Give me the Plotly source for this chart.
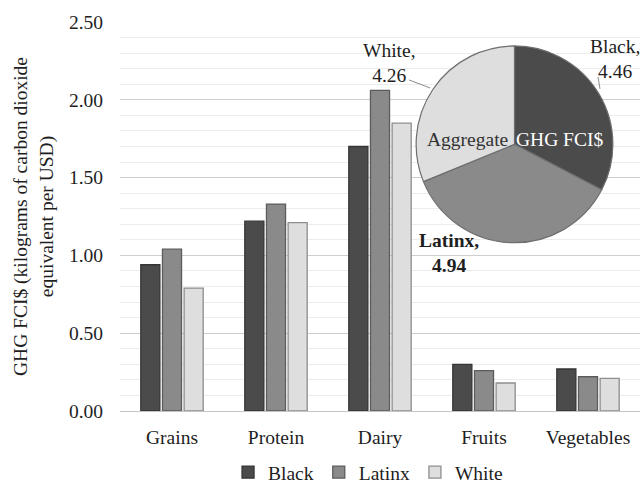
import plotly.graph_objects as go

# Food categories and GHG FCI$ per group (kg CO2e per USD)
categories = ["Grains", "Protein", "Dairy", "Fruits", "Vegetables"]
black_vals = [0.94, 1.22, 1.70, 0.30, 0.27]
latinx_vals = [1.04, 1.33, 2.06, 0.26, 0.22]
white_vals = [0.79, 1.21, 1.85, 0.18, 0.21]

# Aggregate GHG FCI$ by group
pie_labels = ["Black", "Latinx", "White"]
pie_values = [4.46, 4.94, 4.26]

y_ticks = [0.0, 0.5, 1.0, 1.5, 2.0, 2.5]

FILL = {"Black": "#4b4b4b", "Latinx": "#8a8a8a", "White": "#dedede"}
EDGE = {"Black": "#353535", "Latinx": "#5c5c5c", "White": "#8e8e8e"}
FONT = "Liberation Serif, Times New Roman, serif"
FS = 19.5

# plot-area geometry in pixels (used to place paper-referenced items)
W, H = 642, 485
ML, MR, MT, MB = 120, 2, 22, 73.5
PW, PH = W - ML - MR, H - MT - MB


def px(x):
    return (x - ML) / PW


def py(y):
    return (H - MB - y) / PH


fig = go.Figure()
for name, vals in zip(pie_labels, [black_vals, latinx_vals, white_vals]):
    fig.add_trace(go.Bar(
        x=categories, y=vals, name=name,
        marker=dict(color=FILL[name], line=dict(color=EDGE[name], width=1.3)),
        hoverinfo="x+y+name",
    ))

fig.add_trace(go.Pie(
    labels=pie_labels, values=pie_values,
    sort=False, direction="clockwise", rotation=0,
    marker=dict(colors=[FILL[n] for n in pie_labels],
                line=dict(color="#6e6e6e", width=1.2)),
    textinfo="none", showlegend=False,
    domain=dict(x=[px(416), px(613)], y=[py(243), py(46)]),
))

annotations = []
# slice labels built from the pie data
lab_pos = {"Black": (615, 59.5, False), "White": (389, 63.5, False),
           "Latinx": (449, 253, True)}
for name, val in zip(pie_labels, pie_values):
    x, y, bold = lab_pos[name]
    txt = f"{name},<br>{val:.2f}"
    if bold:
        txt = f"<b>{name},<br>{val:.2f}</b>"
    annotations.append(dict(
        x=px(x), y=py(y), xref="paper", yref="paper", text=txt,
        showarrow=False, xanchor="center", yanchor="middle",
        font=dict(family=FONT, size=FS, color="#1e1e1e"),
    ))

# pie title split across the light and dark slices
annotations.append(dict(x=px(510), y=py(140), xref="paper", yref="paper",
                        text="Aggregate", showarrow=False, xanchor="right",
                        yanchor="middle",
                        font=dict(family=FONT, size=FS, color="#333333")))
annotations.append(dict(x=px(514), y=py(140), xref="paper", yref="paper",
                        text="GHG FCI$", showarrow=False, xanchor="left",
                        yanchor="middle",
                        font=dict(family=FONT, size=FS, color="#ffffff")))

# leader lines from labels to slices
shapes = [
    dict(type="line", xref="paper", yref="paper",
         x0=px(409), y0=py(80), x1=px(430), y1=py(88),
         line=dict(color="#8a8a8a", width=1)),
    dict(type="line", xref="paper", yref="paper",
         x0=px(598), y0=py(77), x1=px(600), y1=py(89),
         line=dict(color="#8a8a8a", width=1)),
]

fig.update_layout(
    width=W, height=H,
    margin=dict(l=ML, r=MR, t=MT, b=MB, pad=0, autoexpand=False),
    paper_bgcolor="white", plot_bgcolor="white",
    barmode="group", bargap=0.375, bargroupgap=0.12,
    font=dict(family=FONT, size=FS, color="#1e1e1e"),
    showlegend=True,
    legend=dict(orientation="h", x=0.477, xanchor="center",
                y=py(473), yanchor="middle", itemwidth=30,
                font=dict(family=FONT, size=FS, color="#1e1e1e"),
                traceorder="normal"),
    annotations=annotations, shapes=shapes,
)
fig.update_xaxes(showgrid=False, showline=True, linecolor="#c4c4c4",
                 linewidth=1.2, ticks="", ticklabelstandoff=8)
fig.update_yaxes(range=[0, 2.5], tickvals=y_ticks, tickformat=".2f",
                 showgrid=True, gridcolor="#cfcfcf", gridwidth=1.2,
                 minor=dict(dtick=0.1, showgrid=True, gridcolor="#ececec",
                            gridwidth=1),
                 zeroline=False, ticks="", ticklabelstandoff=16,
                 title=dict(text="GHG FCI$ (kilograms of carbon dioxide<br>equivalent per USD)",
                            standoff=10,
                            font=dict(family=FONT, size=FS, color="#1e1e1e")))

fig.write_html("out.html")
